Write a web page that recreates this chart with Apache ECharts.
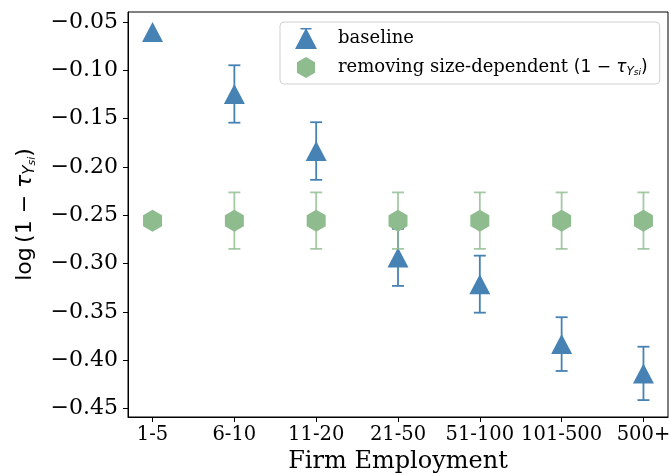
<!DOCTYPE html>
<html>
<head>
<meta charset="utf-8">
<script src="https://cdn.jsdelivr.net/npm/echarts@6/dist/echarts.min.js"></script>
<style>
  html, body { margin: 0; padding: 0; background: #fff; }
  #chart { width: 671px; height: 473px; }
</style>
</head>
<body>
<div id="chart"></div>
<script>
// firm size bins
const categories = ['1-5', '6-10', '11-20', '21-50', '51-100', '101-500', '500+'];
// baseline log(1 - tau) and its error half-width
const baseline = [-0.0603, -0.1245, -0.1835, -0.2935, -0.3212, -0.3832, -0.4135];
const baselineErr = [0, 0.0297, 0.0298, 0.0295, 0.0295, 0.0278, 0.0276];
// removing size-dependent wedge
const removing = [-0.2555, -0.2555, -0.2555, -0.2555, -0.2555, -0.2555, -0.2555];
const removingErr = [0, 0.0292, 0.0292, 0.0292, 0.0292, 0.0292, 0.0292];
const yTicks = [-0.45, -0.40, -0.35, -0.30, -0.25, -0.20, -0.15, -0.10, -0.05];
const xTicks = [0, 1, 2, 3, 4, 5, 6];

const BLUE = '#4682b4';
const GREEN = '#8fbc8f';
const SERIF = 'DejaVu Serif';
const SANS = 'DejaVu Sans';

const hexPath = 'path://M9.5,0 L19,5.5 L19,16.5 L9.5,22 L0,16.5 L0,5.5 Z';
const triLegend = 'path://M5.5,0 L16.5,0 L16.5,1.6 L11.8,1.6 L22,21 L0,21 L10.2,1.6 L5.5,1.6 Z';

const fmtY = v => (v < 0 ? '\u2212' : '') + Math.abs(v).toFixed(2);

function errRender(color) {
    return function (params, api) {
        const x = api.value(0), lo = api.value(1), hi = api.value(2);
        if (hi === lo) return null;
        const a = api.coord([x, lo]), b = api.coord([x, hi]);
        const half = 6;
        const style = { stroke: color, lineWidth: 1.8 };
        return {
            type: 'group',
            children: [
                { type: 'line', shape: { x1: a[0], y1: a[1], x2: b[0], y2: b[1] }, style },
                { type: 'line', shape: { x1: a[0] - half, y1: a[1], x2: a[0] + half, y2: a[1] }, style },
                { type: 'line', shape: { x1: b[0] - half, y1: b[1], x2: b[0] + half, y2: b[1] }, style }
            ]
        };
    };
}

const mathRich = {
    t: { fontFamily: SERIF, fontSize: 18, lineHeight: 20, color: '#000' },
    m: { fontFamily: SANS, fontSize: 17, lineHeight: 20, color: '#000' },
    tau: { fontFamily: SANS, fontStyle: 'italic', fontSize: 17, lineHeight: 20, color: '#000' },
    s1: { fontFamily: SANS, fontStyle: 'italic', fontSize: 12, lineHeight: 12, verticalAlign: 'bottom', color: '#000' },
    s2: { fontFamily: SANS, fontStyle: 'italic', fontSize: 9, lineHeight: 6, verticalAlign: 'bottom', color: '#000' }
};

const yNameRich = {
    m: { fontFamily: SANS, fontSize: 22, lineHeight: 26, color: '#000' },
    tau: { fontFamily: SANS, fontStyle: 'italic', fontSize: 22, lineHeight: 26, color: '#000' },
    s1: { fontFamily: SANS, fontStyle: 'italic', fontSize: 15, lineHeight: 15, verticalAlign: 'bottom', color: '#000' },
    s2: { fontFamily: SANS, fontStyle: 'italic', fontSize: 11, lineHeight: 7, verticalAlign: 'bottom', color: '#000' }
};

const chart = echarts.init(document.getElementById('chart'));
chart.setOption({
    animation: false,
    backgroundColor: '#fff',
    grid: {
        left: 128, right: 3, top: 12, bottom: 56,
        outerBoundsMode: 'none', containLabel: false,
        show: true, borderColor: '#000', borderWidth: 1
    },
    legend: {
        left: 280, top: 22,
        orient: 'vertical',
        padding: [6, 12, 6, 15],
        itemWidth: 22, itemHeight: 21, itemGap: 8,
        borderColor: '#d0d0d0', borderWidth: 1, borderRadius: 4,
        backgroundColor: 'rgba(255,255,255,0.8)',
        textStyle: { padding: [0, 0, 0, 16], rich: mathRich },
        formatter: name => name === 'baseline'
            ? '{t|baseline}'
            : '{t|removing size-dependent }{m|(1 \u2212 }{tau|\u03c4}{s1|Y}{s2|si}{m|)}',
        data: [
            { name: 'baseline', icon: triLegend },
            { name: 'removing', icon: hexPath }
        ]
    },
    xAxis: {
        type: 'value', min: -0.3, max: 6.3,
        name: 'Firm Employment', nameLocation: 'middle', nameGap: 31,
        nameTextStyle: { fontFamily: SERIF, fontSize: 24, color: '#000' },
        axisLine: { show: true, onZero: false, lineStyle: { color: '#000', width: 1 } },
        axisTick: { show: true, customValues: xTicks, length: 5, lineStyle: { color: '#000' } },
        axisLabel: {
            customValues: xTicks, margin: 8,
            fontFamily: SERIF, fontSize: 19.5, color: '#000',
            formatter: v => categories[Math.round(v)]
        },
        splitLine: { show: false }
    },
    yAxis: {
        type: 'value', min: -0.4586, max: -0.0397,
        name: '{m|log\u2009(1 \u2212 }{tau|\u03c4}{s1|Y}{s2|si}{m|)}',
        nameLocation: 'middle', nameGap: 90, nameRotate: 90,
        nameTextStyle: { rich: yNameRich },
        axisLine: { show: true, onZero: false, lineStyle: { color: '#000', width: 1 } },
        axisTick: { show: true, customValues: yTicks, length: 5, lineStyle: { color: '#000' } },
        axisLabel: {
            customValues: yTicks, margin: 10,
            fontFamily: SERIF, fontSize: 22, color: '#000',
            formatter: fmtY
        },
        splitLine: { show: false }
    },
    series: [
        {
            name: 'baselineErr', type: 'custom', z: 2,
            renderItem: errRender(BLUE),
            encode: { x: 0, y: [1, 2] },
            data: baseline.map((v, i) => [i, v - baselineErr[i], v + baselineErr[i]])
        },
        {
            name: 'baseline', type: 'scatter', z: 3,
            symbol: 'triangle', symbolSize: [21, 20],
            itemStyle: { color: BLUE, opacity: 1 },
            data: baseline.map((v, i) => [i, v])
        },
        {
            name: 'removingErr', type: 'custom', z: 4,
            renderItem: errRender('rgba(143,188,143,0.8)'),
            encode: { x: 0, y: [1, 2] },
            data: removing.map((v, i) => [i, v - removingErr[i], v + removingErr[i]])
        },
        {
            name: 'removing', type: 'scatter', z: 5,
            symbol: hexPath, symbolSize: [19, 22],
            itemStyle: { color: GREEN, opacity: 1 },
            data: removing.map((v, i) => [i, v])
        }
    ]
});
</script>
</body>
</html>
